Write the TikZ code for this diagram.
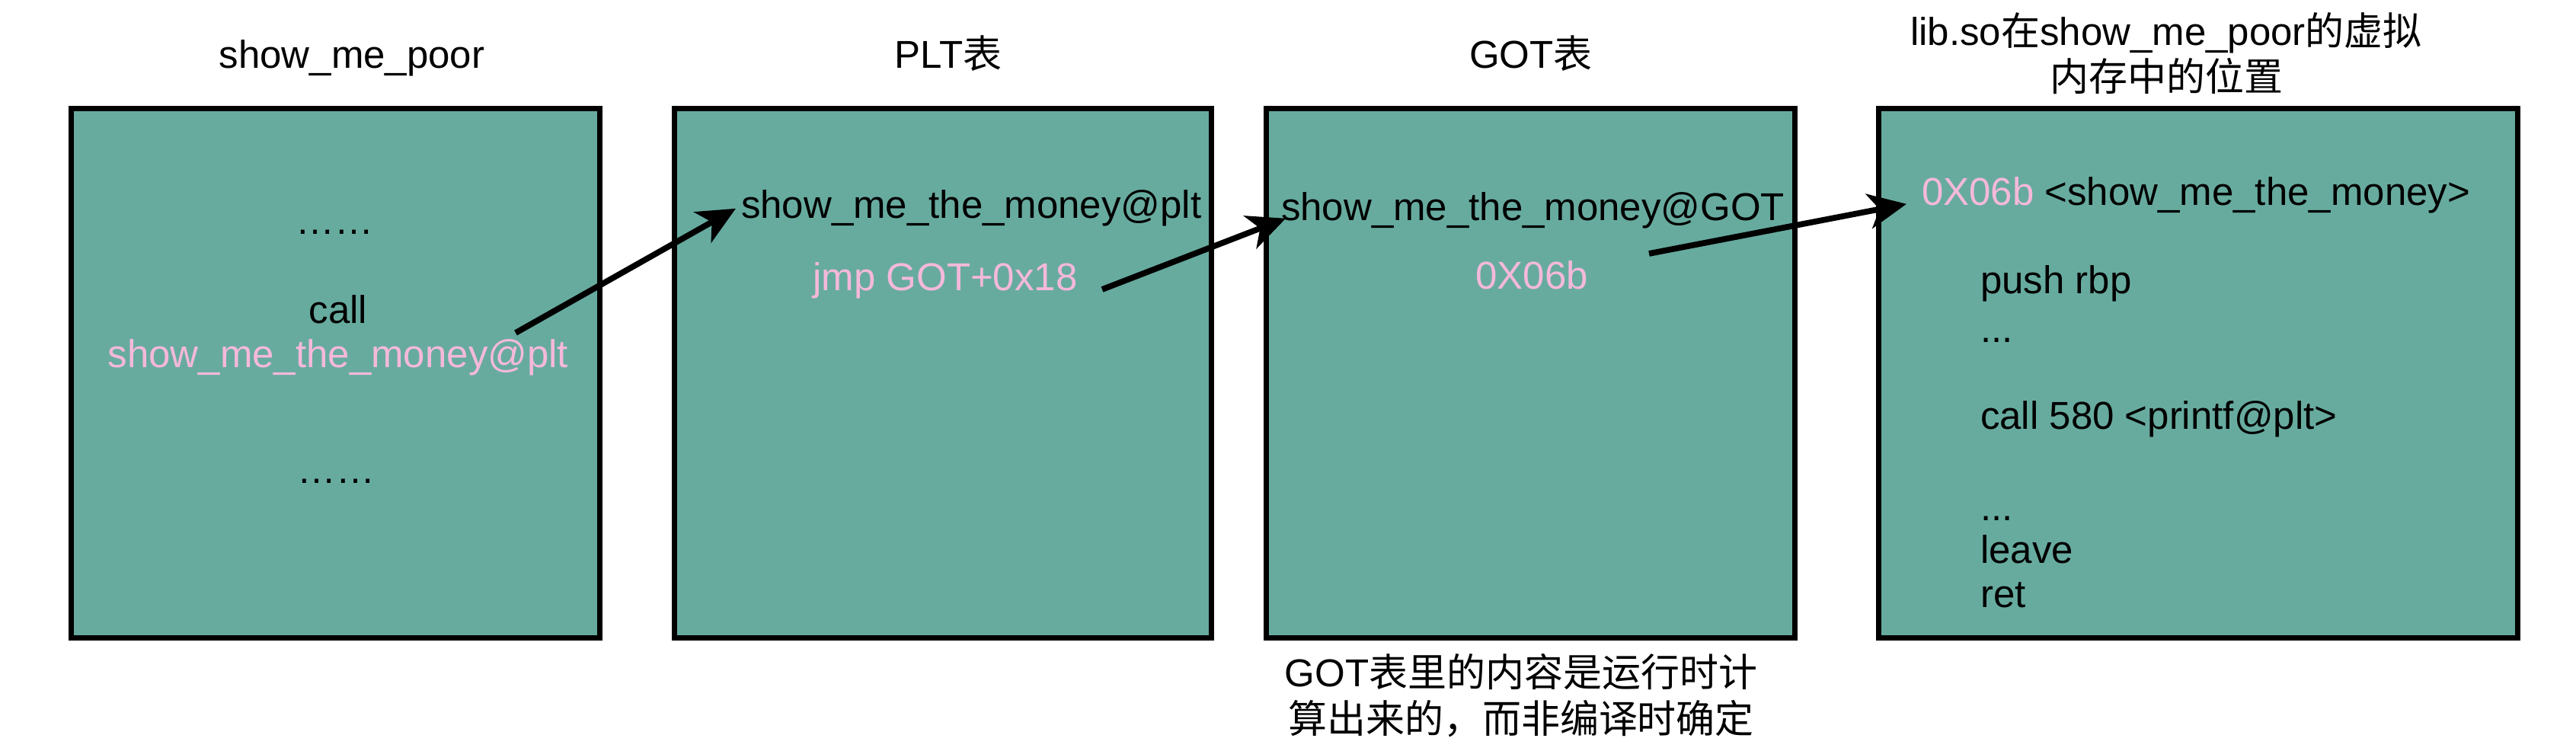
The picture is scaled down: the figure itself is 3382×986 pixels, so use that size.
\documentclass[tikz,border=0pt]{standalone}
\usepackage{fontspec}
\setmainfont{Liberation Sans}
\newfontfamily\cjk{Noto Sans CJK SC}
\usetikzlibrary{arrows.meta}
\definecolor{tealfill}{HTML}{67AB9F}
\definecolor{pinktxt}{HTML}{F5B9DA}
\begin{document}
\begin{tikzpicture}[x=0.01cm,y=-0.01cm,
  box/.style={draw=black,fill=tealfill,line width=2pt,inner sep=0pt,outer sep=0pt,minimum height=6.945cm},
  txt/.style={font=\fontsize{14.5}{17.2}\selectfont,inner sep=0pt,outer sep=0pt,anchor=base},
  ltxt/.style={txt,anchor=base west},
  pk/.style={text=pinktxt},
  arr/.style={line width=2.2pt,-{Stealth[length=5mm,width=4.6mm,inset=1.4mm]}}]
\useasboundingbox (0,0) rectangle (3382,986);
% boxes
\node[box,minimum width=6.935cm] (b1) at (440.25,490.25) {};
\node[box,minimum width=7.045cm] (b2) at (1237.75,490.25) {};
\node[box,minimum width=6.93cm] (b3) at (2009.5,490.25) {};
\node[box,minimum width=8.38cm] (b4) at (2886,490.25) {};
% titles
\node[txt] (t1) at (462,90) {show\_me\_poor};
\node[txt] (t2) at (1245,90) {PLT{\cjk 表}};
\node[txt] (t3) at (2010,90) {GOT{\cjk 表}};
\node[txt,align=center] (t4) at (2844,120) {lib.so{\cjk 在}show\_me\_poor{\cjk 的虚拟}\\{\cjk 内存中的位置}};
% box 1
\node[txt] (d1) at (439,308) {……};
\node[txt] (c1) at (444,425) {call};
\node[txt,pk] (c2) at (444,483) {show\_me\_the\_money@plt};
\node[txt] (d2) at (441,635) {……};
% box 2
\node[ltxt] (p1) at (973,287) {show\_me\_the\_money@plt};
\node[txt,pk] (p2) at (1241,382) {jmp GOT+0x18};
% box 3
\node[ltxt] (g1) at (1682,290) {show\_me\_the\_money@GOT};
\node[txt,pk] (g2) at (2011,380) {0X06b};
% box 4
\node[ltxt] (l1) at (2523,270) {\textcolor{pinktxt}{0X06b} <show\_me\_the\_money>};
\node[ltxt] (l2) at (2600,386) {push rbp};
\node[ltxt] (l3) at (2600,450) {...};
\node[ltxt] (l4) at (2600,564) {call 580 <printf@plt>};
\node[ltxt] (l5) at (2600,684) {...};
\node[ltxt] (l6) at (2600,740) {leave};
\node[ltxt] (l7) at (2600,798) {ret};
% note
\node[txt,align=center] (n1) at (1997,962) {GOT{\cjk 表里的内容是运行时计}\\{\cjk 算出来的，而非编译时确定}};
% arrows
\coordinate (a1s) at (677,437);
\coordinate (a2s) at (1447,380);
\coordinate (a3s) at (2165,333);
\draw[arr] (a1s) -- ([xshift=-0.07cm]p1.west);
\draw[arr] (a2s) -- ([shift={(6,10)}]g1.west);
\draw[arr] (a3s) -- ([shift={(-20,11)}]l1.west);
\end{tikzpicture}
\end{document}
